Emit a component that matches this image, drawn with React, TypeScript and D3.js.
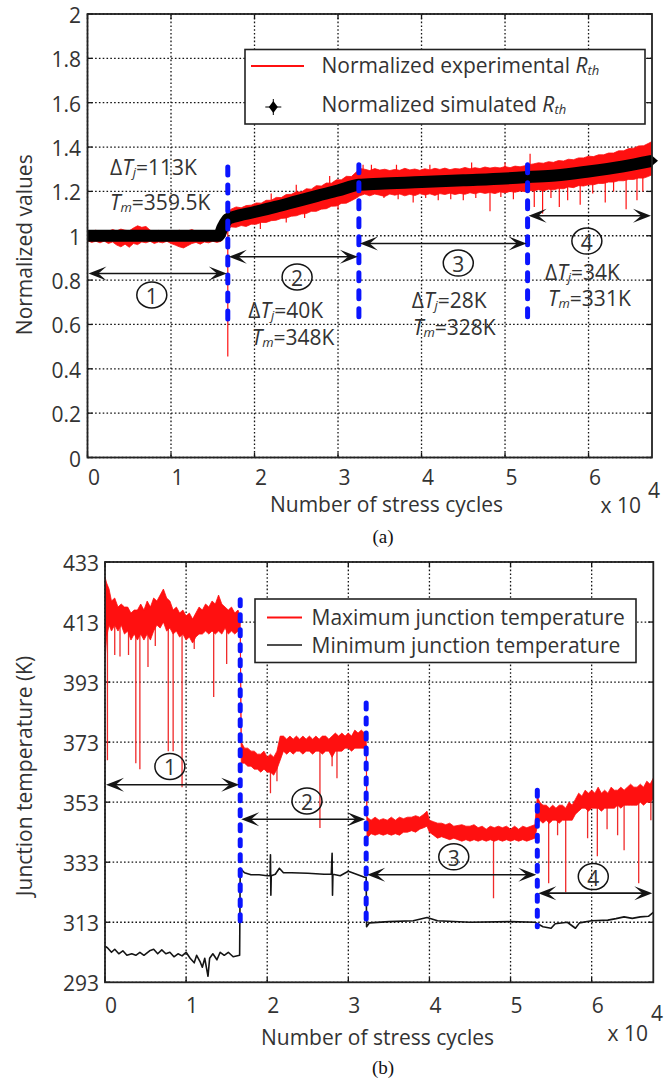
import React from "react";
import * as d3 from "d3";

const W = 671;
const H = 1079;
const SANS = "'Open Sans', Lato, sans-serif";
const SERIF = "'Liberation Serif', 'DejaVu Serif', serif";
const TXT = "#333";
const RED = "#ff1010";
const BLUE = "#0a14ff";
const INK = "#141414";

// ---------- shared axis ----------
const cycleTicks = [0, 1, 2, 3, 4, 5, 6]; // x 10^4 cycles
const cycleMax = 6.76;

// ---------- panel (a): normalized thermal resistance ----------
const rthTicks = [0, 0.2, 0.4, 0.6, 0.8, 1, 1.2, 1.4, 1.6, 1.8, 2];
const rthTickLabels = ["0", "0.2", "0.4", "0.6", "0.8", "1", "1.2", "1.4", "1.6", "1.8", "2"];

// simulated Rth: [cycles/1e4, normalized value]
const rthSimulated: [number, number][] = [
  [0, 1.0], [0.5, 1.0], [1.0, 1.0], [1.57, 1.0], [1.62, 1.04], [1.68, 1.075], [1.75, 1.085],
  [2.0, 1.107], [2.25, 1.13], [2.5, 1.155], [2.75, 1.18], [3.0, 1.204], [3.25, 1.23],
  [3.5, 1.235], [4.0, 1.242], [4.5, 1.25], [5.0, 1.258], [5.27, 1.265], [5.6, 1.272],
  [6.0, 1.29], [6.4, 1.312], [6.76, 1.338],
];

// experimental Rth noise envelope: [cycles/1e4, low, high]
const rthExperimental: [number, number, number][] = [
  [0, 0.978, 1.022], [0.05, 0.97, 1.02], [0.1, 0.975, 1.025], [0.15, 0.968, 1.018], [0.2, 0.976, 1.022],
  [0.25, 0.965, 1.02], [0.3, 0.972, 1.028], [0.35, 0.958, 1.022], [0.4, 0.95, 1.03], [0.45, 0.962, 1.025],
  [0.5, 0.948, 1.022], [0.55, 0.965, 1.035], [0.6, 0.96, 1.045], [0.65, 0.972, 1.038], [0.7, 0.968, 1.042],
  [0.75, 0.975, 1.025], [0.8, 0.965, 1.02], [0.85, 0.972, 1.024], [0.9, 0.968, 1.02], [0.95, 0.975, 1.018],
  [1.0, 0.965, 1.022], [1.05, 0.958, 1.02], [1.1, 0.95, 1.025], [1.15, 0.945, 1.02], [1.2, 0.955, 1.022],
  [1.25, 0.965, 1.028], [1.3, 0.97, 1.02], [1.35, 0.962, 1.022], [1.4, 0.972, 1.018], [1.45, 0.968, 1.022],
  [1.5, 0.975, 1.02], [1.55, 0.97, 1.02], [1.6, 0.975, 1.03], [1.65, 1.0, 1.06],
  [1.68, 1.03, 1.105], [1.72, 1.04, 1.12], [1.78, 1.038, 1.13], [1.84, 1.046, 1.126], [1.9, 1.042, 1.136],
  [1.96, 1.052, 1.138], [2.02, 1.052, 1.148], [2.08, 1.06, 1.147], [2.14, 1.06, 1.16], [2.2, 1.068, 1.16],
  [2.26, 1.07, 1.173], [2.32, 1.078, 1.172], [2.38, 1.08, 1.186], [2.44, 1.088, 1.187], [2.5, 1.09, 1.198],
  [2.56, 1.098, 1.197], [2.62, 1.1, 1.212], [2.68, 1.11, 1.21], [2.74, 1.11, 1.226], [2.8, 1.12, 1.224],
  [2.86, 1.122, 1.238], [2.92, 1.133, 1.237], [2.98, 1.134, 1.252], [3.04, 1.146, 1.252], [3.1, 1.147, 1.268],
  [3.16, 1.158, 1.267], [3.22, 1.17, 1.288], [3.26, 1.18, 1.303],
  [3.32, 1.188, 1.3], [3.38, 1.18, 1.294], [3.44, 1.188, 1.303], [3.5, 1.183, 1.296], [3.56, 1.177, 1.3],
  [3.62, 1.188, 1.294], [3.68, 1.183, 1.299], [3.74, 1.188, 1.295], [3.8, 1.18, 1.304], [3.86, 1.187, 1.297],
  [3.92, 1.181, 1.301], [3.98, 1.19, 1.295], [4.04, 1.184, 1.302], [4.1, 1.189, 1.297], [4.16, 1.182, 1.304],
  [4.22, 1.19, 1.299], [4.28, 1.186, 1.305], [4.34, 1.192, 1.298], [4.4, 1.186, 1.303], [4.46, 1.191, 1.301],
  [4.52, 1.187, 1.308], [4.58, 1.194, 1.302], [4.64, 1.189, 1.307], [4.7, 1.196, 1.303], [4.76, 1.191, 1.31],
  [4.82, 1.195, 1.305], [4.88, 1.19, 1.309], [4.94, 1.198, 1.306], [5.0, 1.193, 1.312], [5.06, 1.2, 1.307],
  [5.12, 1.196, 1.314], [5.18, 1.202, 1.311], [5.24, 1.199, 1.316], [5.28, 1.204, 1.32],
  [5.34, 1.202, 1.324], [5.4, 1.208, 1.329], [5.46, 1.202, 1.327], [5.52, 1.21, 1.334], [5.58, 1.207, 1.331],
  [5.64, 1.213, 1.339], [5.7, 1.212, 1.337], [5.76, 1.22, 1.345], [5.82, 1.217, 1.343], [5.88, 1.226, 1.351],
  [5.94, 1.224, 1.351], [6.0, 1.23, 1.359], [6.06, 1.23, 1.357], [6.12, 1.236, 1.365], [6.18, 1.236, 1.365],
  [6.24, 1.242, 1.373], [6.3, 1.242, 1.373], [6.36, 1.248, 1.383], [6.42, 1.248, 1.383], [6.48, 1.254, 1.393],
  [6.54, 1.254, 1.395], [6.6, 1.26, 1.405], [6.66, 1.26, 1.406], [6.72, 1.268, 1.417], [6.76, 1.275, 1.425],
];

// isolated excursions of the experimental Rth: [cycles/1e4, value]
const rthSpikes: [number, number][] = [
  [1.68, 0.455], [2.07, 1.03], [2.38, 1.06], [2.6, 1.08], [3.0, 1.12], [3.55, 1.17], [3.72, 1.165],
  [3.9, 1.15], [4.05, 1.17], [4.2, 1.16], [4.35, 1.165], [4.5, 1.16], [4.65, 1.17], [4.82, 1.11],
  [4.95, 1.175], [5.1, 1.165], [5.35, 1.13], [5.45, 1.1], [5.55, 1.17], [5.65, 1.13], [5.75, 1.16],
  [5.9, 1.14], [6.05, 1.19], [6.2, 1.15], [6.3, 1.2], [6.45, 1.12], [6.58, 1.16], [6.65, 1.2],
  [5.3, 1.37], [2.2, 1.19], [2.5, 1.23], [2.9, 1.27], [3.3, 1.32], [3.4, 1.32], [3.7, 1.32],
  [4.1, 1.32], [4.6, 1.33], [5.0, 1.33],
];

const rthStageBounds = [1.68, 3.25, 5.27];
const rthStageSpans: [number, number][] = [[0.59, 1.31], [0.59, 1.32], [0.61, 1.32]];
const rthArrows: [number, number, number][] = [[0, 1.68, 0.83], [1.68, 3.25, 0.905], [3.25, 5.27, 0.965], [5.27, 6.76, 1.09]];
const rthCircles: [number, number][] = [[0.77, 0.733], [2.51, 0.814], [4.44, 0.877], [5.98, 0.976]];
const rthDeltaTj = ["113K", "40K", "28K", "34K"];
const rthTm = ["359.5K", "348K", "328K", "331K"];
const rthDeltaPos: [number, number][] = [[0.27, 1.311], [1.926, 0.665], [3.883, 0.71], [5.479, 0.838]];
const rthTmPos: [number, number][] = [[0.27, 1.154], [1.966, 0.545], [3.898, 0.59], [5.515, 0.718]];

// ---------- panel (b): junction temperature ----------
const tjTicks = [293, 313, 333, 353, 373, 393, 413, 433];

// maximum junction temperature envelope: [cycles/1e4, low K, high K]
const tjMax: [number, number, number][] = [
  [0, 400, 428], [0.02, 408, 426], [0.05, 412, 424], [0.08, 410, 420], [0.12, 412, 421], [0.16, 410, 418],
  [0.2, 412, 419], [0.24, 409, 418], [0.28, 410, 418], [0.32, 407, 416], [0.36, 409, 417], [0.4, 407, 417],
  [0.44, 409, 419], [0.48, 407, 417], [0.52, 409, 420], [0.56, 407, 418], [0.6, 410, 421], [0.64, 412, 420],
  [0.68, 411, 422], [0.72, 413, 424], [0.76, 410, 421], [0.8, 411, 420], [0.84, 409, 417], [0.88, 410, 418],
  [0.92, 408, 416], [0.96, 409, 417], [1.0, 407, 415], [1.04, 408, 416], [1.08, 406, 414], [1.12, 408, 416],
  [1.16, 409, 418], [1.2, 409, 417], [1.24, 410, 419], [1.28, 409, 418], [1.32, 410, 420], [1.36, 409, 419],
  [1.4, 410, 422], [1.44, 409, 419], [1.48, 411, 418], [1.52, 409, 417], [1.56, 410, 418], [1.6, 409, 416],
  [1.64, 410, 417], [1.667, 410, 415],
  [1.68, 366, 373], [1.72, 366, 371], [1.76, 365, 371], [1.8, 365, 370], [1.84, 364, 370], [1.88, 364, 369],
  [1.92, 363, 369], [1.96, 364, 370], [2.0, 363, 368], [2.04, 363, 369], [2.08, 362, 368], [2.12, 364, 370],
  [2.16, 367, 375], [2.2, 370, 375], [2.24, 369, 374], [2.28, 370, 375], [2.32, 369, 374], [2.36, 370, 375],
  [2.4, 370, 374], [2.44, 369, 375], [2.48, 370, 374], [2.52, 370, 375], [2.56, 369, 374], [2.6, 370, 375],
  [2.64, 370, 374], [2.68, 369, 375], [2.72, 370, 375], [2.76, 370, 374], [2.8, 368, 375], [2.84, 370, 376],
  [2.88, 370, 375], [2.92, 370, 376], [2.96, 371, 375], [3.0, 371, 376], [3.04, 370, 375], [3.08, 371, 377],
  [3.12, 371, 376], [3.16, 371, 377], [3.2, 371, 376], [3.22, 372, 376],
  [3.23, 341, 348], [3.28, 342.5, 347], [3.33, 342, 348], [3.38, 342.5, 347], [3.43, 342, 347.5], [3.48, 342.5, 347],
  [3.53, 342, 348], [3.58, 342.5, 347], [3.63, 342, 348], [3.68, 343, 347.5], [3.73, 343, 348], [3.78, 343.5, 348],
  [3.83, 343, 348.5], [3.88, 344, 348], [3.93, 344.5, 349], [3.97, 345, 350], [4.0, 343, 347], [4.05, 342, 346.5],
  [4.1, 341, 346], [4.15, 341.5, 346], [4.2, 341, 345.5], [4.25, 340.5, 346], [4.3, 341, 345], [4.4, 340, 345.5],
  [4.45, 340.5, 345], [4.5, 340, 345], [4.55, 340.5, 345.5], [4.6, 340, 344.5], [4.65, 340.5, 345], [4.7, 340, 344],
  [4.75, 340.5, 345], [4.8, 340, 344.5], [4.85, 340.5, 345], [4.9, 340, 344.5], [4.95, 340.5, 345], [5.0, 340, 344],
  [5.05, 340.5, 345], [5.1, 340, 344], [5.15, 340.5, 345], [5.2, 340, 344.5], [5.25, 340.5, 345], [5.3, 341, 345.5],
  [5.33, 345, 355], [5.36, 347, 353], [5.4, 346, 352], [5.44, 347, 352], [5.48, 346, 351], [5.52, 347, 352],
  [5.56, 347, 351], [5.6, 346, 352], [5.64, 347, 352], [5.68, 347, 351], [5.72, 347, 353], [5.76, 347, 352],
  [5.8, 349, 354], [5.84, 350, 356], [5.88, 351, 355], [5.92, 351, 357], [5.96, 350, 356], [6.0, 351, 357],
  [6.04, 351, 356], [6.08, 351, 358], [6.12, 350, 356], [6.16, 351, 357], [6.2, 351, 356], [6.24, 351, 358],
  [6.28, 351, 357], [6.32, 352, 357], [6.36, 351, 358], [6.4, 352, 357], [6.44, 352, 358], [6.48, 352, 359],
  [6.52, 352, 358], [6.56, 352, 358], [6.6, 353, 359], [6.64, 352, 358], [6.68, 353, 360], [6.72, 353, 359],
  [6.76, 354, 361],
];

// isolated drops of the maximum junction temperature: [cycles/1e4, K]
const tjMaxSpikes: [number, number][] = [
  [0.03, 367], [0.12, 402], [0.185, 401.5], [0.29, 402], [0.38, 366], [0.43, 364], [0.53, 398],
  [0.62, 405], [0.78, 370], [0.84, 370], [0.95, 358], [1.1, 404], [1.34, 388], [1.5, 399],
  [2.04, 356], [2.12, 360], [2.65, 344.4], [2.8, 365], [2.86, 361],
  [4.79, 321],
  [5.47, 326], [5.58, 342], [5.68, 323], [5.95, 341], [6.07, 335], [6.19, 344], [6.32, 342],
  [6.4, 337], [6.58, 326], [6.73, 347],
];

// minimum junction temperature: [cycles/1e4, K]
const tjMin: [number, number][] = [
  [0, 305], [0.03, 304.5], [0.08, 303], [0.12, 304], [0.17, 302.5], [0.22, 303.5], [0.27, 302],
  [0.33, 302.5], [0.38, 302], [0.43, 303], [0.48, 302], [0.55, 303.5], [0.6, 304], [0.65, 302.5],
  [0.7, 303.8], [0.75, 302.5], [0.8, 303], [0.85, 301.5], [0.9, 302.5], [0.95, 301.8], [1.0, 303],
  [1.05, 301], [1.1, 299.5], [1.13, 302], [1.17, 300], [1.2, 298], [1.23, 301], [1.27, 295],
  [1.29, 301], [1.33, 302.5], [1.38, 300.5], [1.42, 303], [1.47, 302], [1.52, 303], [1.58, 301.5],
  [1.66, 302], [1.667, 331], [1.72, 329.5], [1.8, 328.8], [1.9, 328.8], [2.0, 328.5], [2.035, 328.5],
  [2.04, 335.5], [2.045, 322], [2.05, 328.5], [2.1, 329], [2.15, 331], [2.2, 329.5], [2.3, 329.5],
  [2.5, 329.3], [2.7, 329], [2.79, 329], [2.8, 336], [2.805, 322], [2.81, 329], [2.9, 328.5],
  [3.0, 330], [3.1, 329], [3.2, 328], [3.22, 328], [3.225, 311.5], [3.26, 312.8], [3.5, 313.2],
  [3.8, 313.5], [3.97, 314.6], [4.1, 313.5], [4.5, 313], [5.0, 313.2], [5.3, 313], [5.4, 311.5],
  [5.5, 311], [5.55, 312.5], [5.7, 313], [5.8, 311], [5.85, 312.8], [6.0, 313.5], [6.2, 313.7],
  [6.3, 314.2], [6.4, 314.8], [6.5, 314.3], [6.6, 314.8], [6.7, 315], [6.76, 316.3],
];

const tjStageBounds = [1.667, 3.22, 5.33];
const tjStageSpans: [number, number][] = [[311.5, 420.4], [313.8, 386], [311.5, 357]];
const tjArrows: [number, number, number][] = [[0, 1.667, 358.8], [1.667, 3.22, 347.3], [3.22, 5.33, 328.8], [5.33, 6.76, 322.7]];
const tjCircles: [number, number][] = [[0.8, 364.9], [2.49, 353.4], [4.3, 334.8], [6.02, 328.2]];

const stageNumbers = ["1", "2", "3", "4"];

// ---------- layout ----------
const A = { left: 87.5, right: 652, top: 14, bottom: 457.5 };
const B = { left: 105, right: 653.3, top: 562, bottom: 982.3 };

const FS = 21;

function Arrow({ x1, x2, y }: { x1: number; x2: number; y: number }) {
  const L = 18;
  const w = 7;
  return (
    <g>
      <line x1={x1 + 6} x2={x2 - 6} y1={y} y2={y} stroke={INK} strokeWidth={1.6} />
      <path d={`M${x1},${y} L${x1 + L},${y - w} L${x1 + L * 0.55},${y} L${x1 + L},${y + w} Z`} fill={INK} />
      <path d={`M${x2},${y} L${x2 - L},${y - w} L${x2 - L * 0.55},${y} L${x2 - L},${y + w} Z`} fill={INK} />
    </g>
  );
}

function Circled({ cx, cy, label }: { cx: number; cy: number; label: string }) {
  return (
    <g>
      <ellipse cx={cx} cy={cy} rx={15} ry={13} fill="none" stroke={INK} strokeWidth={1.5} />
      <text x={cx} y={cy + 1} textAnchor="middle" dominantBaseline="central" fontFamily={SANS} fontSize={21} fill={TXT}>
        {label}
      </text>
    </g>
  );
}

function SubText({ x, y, pre, italic, sub, post }: { x: number; y: number; pre: string; italic: string; sub: string; post: string }) {
  return (
    <text x={x} y={y} dominantBaseline="central" fontFamily={SANS} fontSize={FS} fill={TXT}>
      {pre && <tspan>{pre}</tspan>}
      <tspan fontStyle="italic">{italic}</tspan>
      <tspan fontStyle="italic" fontSize={13} dy={5}>
        {sub}
      </tspan>
      <tspan dy={-5}>{post}</tspan>
    </text>
  );
}

function Frame({ box, xs, ys, yTicks }: { box: typeof A; xs: d3.ScaleLinear<number, number>; ys: d3.ScaleLinear<number, number>; yTicks: number[] }) {
  const tick = 5;
  return (
    <g>
      {cycleTicks.map((t) => (
        <g key={"gx" + t}>
          <line x1={xs(t)} x2={xs(t)} y1={box.top} y2={box.bottom} stroke={INK} strokeWidth={1.3} strokeDasharray="1.6 2.2" />
          <line x1={xs(t)} x2={xs(t)} y1={box.bottom} y2={box.bottom - tick} stroke={INK} strokeWidth={1.3} />
          <line x1={xs(t)} x2={xs(t)} y1={box.top} y2={box.top + tick} stroke={INK} strokeWidth={1.3} />
        </g>
      ))}
      {yTicks.map((t) => (
        <g key={"gy" + t}>
          <line x1={box.left} x2={box.right} y1={ys(t)} y2={ys(t)} stroke={INK} strokeWidth={1.3} strokeDasharray="1.6 2.2" />
          <line x1={box.left} x2={box.left + tick} y1={ys(t)} y2={ys(t)} stroke={INK} strokeWidth={1.3} />
          <line x1={box.right} x2={box.right - tick} y1={ys(t)} y2={ys(t)} stroke={INK} strokeWidth={1.3} />
        </g>
      ))}
    </g>
  );
}

function Border({ box }: { box: typeof A }) {
  return (
    <rect x={box.left} y={box.top} width={box.right - box.left} height={box.bottom - box.top} fill="none" stroke="#222" strokeWidth={1.8} />
  );
}

function nearest<T extends number[]>(rows: T[], x: number): T {
  const i = d3.bisector((r: T) => r[0]).center(rows, x);
  return rows[i];
}

function PanelA() {
  const xs = d3.scaleLinear().domain([0, cycleMax]).range([A.left, A.right]);
  const ys = d3.scaleLinear().domain([0, 2]).range([A.bottom, A.top]);
  const band = d3
    .area<[number, number, number]>()
    .x((d) => xs(d[0]))
    .y0((d) => ys(d[1]))
    .y1((d) => ys(d[2]));
  const simLine = d3
    .line<[number, number]>()
    .x((d) => xs(d[0]))
    .y((d) => ys(d[1]))
    .curve(d3.curveMonotoneX);
  const last = rthSimulated[rthSimulated.length - 1];
  return (
    <g>
      <defs>
        <clipPath id="clipA">
          <rect x={A.left} y={A.top} width={A.right - A.left} height={A.bottom - A.top} />
        </clipPath>
      </defs>
      <Frame box={A} xs={xs} ys={ys} yTicks={rthTicks} />
      <g clipPath="url(#clipA)">
        {rthSpikes.map(([x, v], i) => {
          const r = nearest(rthExperimental, x);
          const from = (r[1] + r[2]) / 2;
          return <line key={i} x1={xs(x)} x2={xs(x)} y1={ys(from)} y2={ys(v)} stroke={RED} strokeWidth={1.2} />;
        })}
        <path d={band(rthExperimental) || ""} fill={RED} stroke={RED} strokeWidth={0.8} strokeLinejoin="round" />
        <path d={simLine(rthSimulated) || ""} fill="none" stroke="#000" strokeWidth={12} strokeLinejoin="round" />
      </g>
      <path d="M0,-6 L7,0 L0,6 Z" transform={`translate(${xs(last[0]) - 1},${ys(last[1])})`} fill="#000" />
      {rthStageBounds.map((b, i) => (
        <line key={i} x1={xs(b)} x2={xs(b)} y1={ys(rthStageSpans[i][1])} y2={ys(rthStageSpans[i][0])}
          stroke={BLUE} strokeWidth={5} strokeDasharray="8 10" strokeLinecap="round" />
      ))}
      {rthArrows.map(([a, b, v], i) => (
        <Arrow key={i} x1={xs(a) + 1} x2={xs(b) - 1} y={ys(v)} />
      ))}
      {rthCircles.map(([x, v], i) => (
        <Circled key={i} cx={xs(x)} cy={ys(v)} label={stageNumbers[i]} />
      ))}
      {rthDeltaTj.map((s, i) => (
        <SubText key={"d" + i} x={xs(rthDeltaPos[i][0])} y={ys(rthDeltaPos[i][1])} pre="Δ" italic="T" sub="j" post={"=" + s} />
      ))}
      {rthTm.map((s, i) => (
        <SubText key={"m" + i} x={xs(rthTmPos[i][0])} y={ys(rthTmPos[i][1])} pre="" italic="T" sub="m" post={"=" + s} />
      ))}
      {/* legend */}
      <g>
        <rect x={245} y={49.5} width={400} height={74.5} fill="#fff" stroke="#222" strokeWidth={1.6} />
        <line x1={251} x2={304} y1={66} y2={66} stroke={RED} strokeWidth={2} />
        <text x={321.5} y={65} dominantBaseline="central" fontFamily={SANS} fontSize={FS} fill={TXT}>
          Normalized experimental <tspan fontStyle="italic">R</tspan>
          <tspan fontStyle="italic" fontSize={13} dy={5}>th</tspan>
        </text>
        <g transform="translate(273.3,107)">
          <path d="M0,-6 L4.5,0 L0,6 L-4.5,0 Z" fill="#000" />
          <line x1={-8} x2={8} y1={0} y2={0} stroke="#000" strokeWidth={1} />
          <line x1={0} x2={0} y1={-8} y2={8} stroke="#000" strokeWidth={1} />
        </g>
        <text x={321.5} y={104} dominantBaseline="central" fontFamily={SANS} fontSize={FS} fill={TXT}>
          Normalized simulated <tspan fontStyle="italic">R</tspan>
          <tspan fontStyle="italic" fontSize={13} dy={5}>th</tspan>
        </text>
      </g>
      <Border box={A} />
      {rthTicks.map((t, i) => (
        <text key={"ly" + t} x={81} y={ys(t) + 1} textAnchor="end" dominantBaseline="central" fontFamily={SANS} fontSize={FS} fill={TXT}>
          {rthTickLabels[i]}
        </text>
      ))}
      {cycleTicks.map((t) => (
        <text key={"lx" + t} x={xs(t) + 6.5} y={477} textAnchor="middle" dominantBaseline="central" fontFamily={SANS} fontSize={FS} fill={TXT}>
          {t}
        </text>
      ))}
      <text x={386.5} y={504} textAnchor="middle" dominantBaseline="central" fontFamily={SANS} fontSize={FS} fill={TXT}>
        Number of stress cycles
      </text>
      <text x={641} y={505} textAnchor="end" dominantBaseline="central" fontFamily={SANS} fontSize={FS} fill={TXT}>
        x 10
      </text>
      <text x={654} y={490} textAnchor="middle" dominantBaseline="central" fontFamily={SANS} fontSize={FS} fill={TXT}>
        4
      </text>
      <text transform={`translate(24,${(A.top + A.bottom) / 2 + 9}) rotate(-90)`} textAnchor="middle" dominantBaseline="central" fontFamily={SANS} fontSize={FS} fill={TXT}>
        Normalized values
      </text>
      <text x={383} y={536} textAnchor="middle" dominantBaseline="central" fontFamily={SERIF} fontSize={19} fill="#111">
        (a)
      </text>
    </g>
  );
}

function PanelB() {
  const xs = d3.scaleLinear().domain([0, cycleMax]).range([B.left, B.right]);
  const ys = d3.scaleLinear().domain([293, 433]).range([B.bottom, B.top]);
  const band = d3
    .area<[number, number, number]>()
    .x((d) => xs(d[0]))
    .y0((d) => ys(d[1]))
    .y1((d) => ys(d[2]));
  const minLine = d3
    .line<[number, number]>()
    .x((d) => xs(d[0]))
    .y((d) => ys(d[1]));
  return (
    <g>
      <defs>
        <clipPath id="clipB">
          <rect x={B.left} y={B.top} width={B.right - B.left} height={B.bottom - B.top} />
        </clipPath>
      </defs>
      <Frame box={B} xs={xs} ys={ys} yTicks={tjTicks} />
      <g clipPath="url(#clipB)">
        {tjMaxSpikes.map(([x, v], i) => {
          const r = nearest(tjMax, x);
          const from = (r[1] + r[2]) / 2;
          return <line key={i} x1={xs(x)} x2={xs(x)} y1={ys(from)} y2={ys(v)} stroke="#f02a2a" strokeWidth={1.3} />;
        })}
        <path d={band(tjMax) || ""} fill={RED} stroke={RED} strokeWidth={0.8} strokeLinejoin="round" />
        <path d={minLine(tjMin) || ""} fill="none" stroke={INK} strokeWidth={1.6} strokeLinejoin="round" />
      </g>
      {tjStageBounds.map((b, i) => (
        <line key={i} x1={xs(b)} x2={xs(b)} y1={ys(tjStageSpans[i][1])} y2={ys(tjStageSpans[i][0])}
          stroke={BLUE} strokeWidth={5} strokeDasharray="6 9" strokeLinecap="round" />
      ))}
      {tjArrows.map(([a, b, v], i) => (
        <Arrow key={i} x1={xs(a) + 1} x2={xs(b) - 1} y={ys(v)} />
      ))}
      {tjCircles.map(([x, v], i) => (
        <Circled key={i} cx={xs(x)} cy={ys(v)} label={stageNumbers[i]} />
      ))}
      {/* legend */}
      <g>
        <rect x={255} y={599} width={381} height={63.5} fill="#fff" stroke="#222" strokeWidth={1.6} />
        <line x1={267} x2={302} y1={617.5} y2={617.5} stroke={RED} strokeWidth={2} />
        <text x={311.5} y={617} dominantBaseline="central" fontFamily={SANS} fontSize={FS} fill={TXT}>
          Maximum junction temperature
        </text>
        <line x1={267} x2={302} y1={645} y2={645} stroke={INK} strokeWidth={1.6} />
        <text x={311.5} y={645} dominantBaseline="central" fontFamily={SANS} fontSize={FS} fill={TXT}>
          Minimum junction temperature
        </text>
      </g>
      <Border box={B} />
      {tjTicks.map((t) => (
        <text key={"ly" + t} x={99} y={ys(t) + 1} textAnchor="end" dominantBaseline="central" fontFamily={SANS} fontSize={FS} fill={TXT}>
          {t}
        </text>
      ))}
      {cycleTicks.map((t) => (
        <text key={"lx" + t} x={xs(t) + 6} y={1005} textAnchor="middle" dominantBaseline="central" fontFamily={SANS} fontSize={FS} fill={TXT}>
          {t}
        </text>
      ))}
      <text x={377.5} y={1036.5} textAnchor="middle" dominantBaseline="central" fontFamily={SANS} fontSize={FS} fill={TXT}>
        Number of stress cycles
      </text>
      <text x={648} y={1033} textAnchor="end" dominantBaseline="central" fontFamily={SANS} fontSize={FS} fill={TXT}>
        x 10
      </text>
      <text x={657} y={1013} textAnchor="middle" dominantBaseline="central" fontFamily={SANS} fontSize={FS} fill={TXT}>
        4
      </text>
      <text transform={`translate(24,776) rotate(-90)`} textAnchor="middle" dominantBaseline="central" fontFamily={SANS} fontSize={FS} fill={TXT}>
        Junction temperature (K)
      </text>
      <text x={383} y={1067} textAnchor="middle" dominantBaseline="central" fontFamily={SERIF} fontSize={19} fill="#111">
        (b)
      </text>
    </g>
  );
}

export default function App() {
  return (
    <svg width={W} height={H} viewBox={`0 0 ${W} ${H}`} style={{ position: "absolute", left: 0, top: 0, background: "#fff" }}>
      <rect x={0} y={0} width={W} height={H} fill="#fff" />
      <PanelA />
      <PanelB />
    </svg>
  );
}
